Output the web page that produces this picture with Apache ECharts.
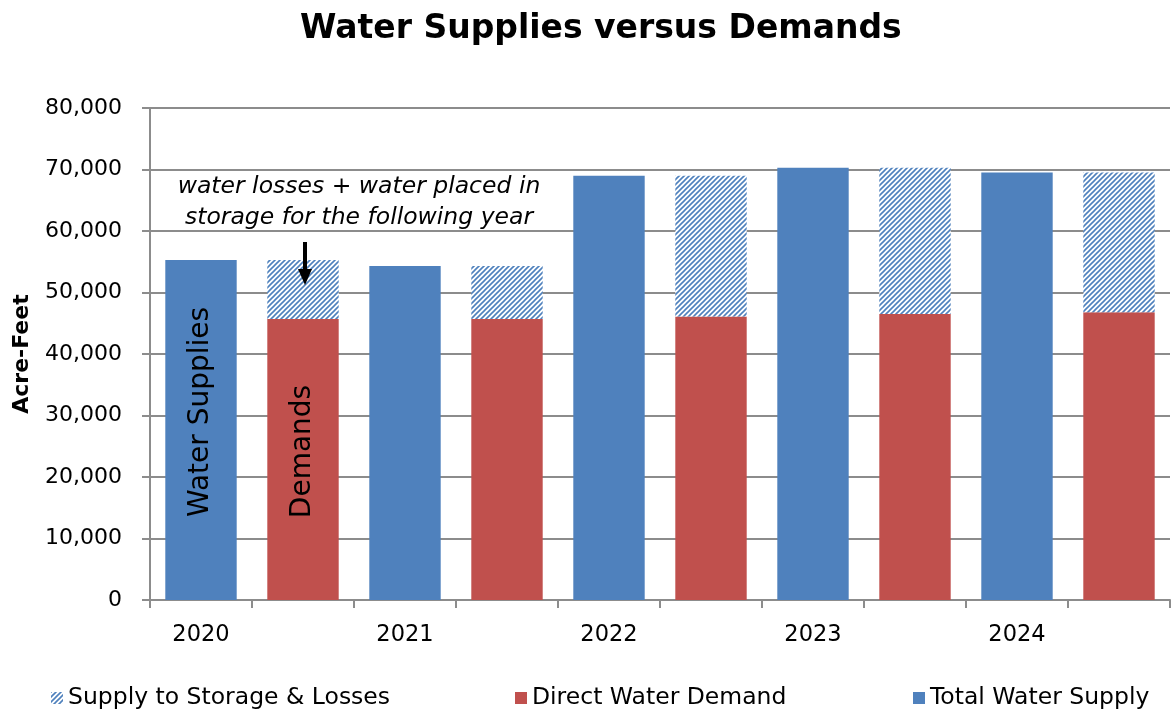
<!DOCTYPE html>
<html><head><meta charset="utf-8">
<script src="https://cdn.jsdelivr.net/npm/echarts@6/dist/echarts.min.js"></script>
<style>html,body{margin:0;padding:0;background:#fff}#c{width:1171px;height:711px}</style>
</head><body><div id="c"></div>
<script>
const categories = ['2020','2020d','2021','2021d','2022','2022d','2023','2023d','2024','2024d'];
const yearLabels = ['2020','','2021','','2022','','2023','','2024',''];
const totalSupply = [55300,'-',54300,'-',69000,'-',70300,'-',69500,'-'];
const directDemand = ['-',45700,'-',45700,'-',46100,'-',46500,'-',46800];
const storageLosses = ['-',9600,'-',8600,'-',22900,'-',23800,'-',22700];
const yTicks = [0,10000,20000,30000,40000,50000,60000,70000,80000];

const FONT = '"DejaVu Sans",sans-serif';
const BLUE = '#4F81BD', RED = '#C0504D', GRID = '#8c8c8c';

function hatch(){
  const c = document.createElement('canvas');
  c.width = 5; c.height = 5;
  const g = c.getContext('2d');
  g.fillStyle = '#fff'; g.fillRect(0,0,5,5);
  g.strokeStyle = BLUE; g.lineWidth = 1.6;
  g.beginPath();
  g.moveTo(-1,6); g.lineTo(6,-1);
  g.moveTo(-4,4); g.lineTo(4,-4);
  g.moveTo(1,9); g.lineTo(9,1);
  g.stroke();
  return c;
}
const pat = {image: hatch(), repeat: 'repeat'};

const chart = echarts.init(document.getElementById('c'));
const legendText = {fontFamily: FONT, fontSize: 23.5, color: '#000'};
const legBase = {icon: 'rect', itemWidth: 12, itemHeight: 12, top: 681, textStyle: legendText};
chart.setOption({
  animation: false,
  textStyle: {fontFamily: FONT},
  title: {text: 'Water Supplies versus Demands', left: 295, top: 8,
    textStyle: {fontFamily: FONT, fontSize: 33, fontWeight: 'bold', color: '#000'}},
  grid: {left: 150, right: 1, top: 108, bottom: 111, outerBoundsMode: 'none', containLabel: false},
  legend: [
    Object.assign({data: ['Supply to Storage & Losses'], left: 46}, legBase),
    Object.assign({data: ['Direct Water Demand'], left: 510}, legBase),
    Object.assign({data: ['Total Water Supply'], left: 908}, legBase)
  ],
  xAxis: {type: 'category', data: categories,
    axisLine: {lineStyle: {color: GRID, width: 2}},
    axisTick: {show: true, interval: 0, length: 8, lineStyle: {color: GRID, width: 2}},
    axisLabel: {interval: 0, margin: 24, fontSize: 22.5, color: '#000', fontFamily: FONT,
      formatter: (v, i) => yearLabels[i]}
  },
  yAxis: {type: 'value', min: yTicks[0], max: yTicks[yTicks.length-1], interval: 10000,
    name: 'Acre-Feet', nameLocation: 'middle', nameGap: 117,
    nameTextStyle: {fontFamily: FONT, fontSize: 22, fontWeight: 'bold', color: '#000'},
    axisLine: {show: true, lineStyle: {color: GRID, width: 2}},
    axisTick: {show: true, length: 8, lineStyle: {color: GRID, width: 2}},
    splitLine: {lineStyle: {color: GRID, width: 2}},
    axisLabel: {fontSize: 22, color: '#000', margin: 28, fontFamily: FONT,
      formatter: v => v.toLocaleString('en-US')}
  },
  series: [
    {name: 'Total Water Supply', type: 'bar', stack: 's', data: totalSupply, barWidth: '70%',
      itemStyle: {color: BLUE},
      label: {show: true, position: 'inside', rotate: 90, fontSize: 28, color: '#000', fontFamily: FONT,
        offset: [18, 0],
        formatter: p => p.dataIndex === 0 ? 'Water Supplies' : ''}},
    {name: 'Direct Water Demand', type: 'bar', stack: 's', data: directDemand, barWidth: '70%',
      itemStyle: {color: RED},
      label: {show: true, position: 'inside', rotate: 90, fontSize: 28, color: '#000', fontFamily: FONT,
        offset: [8, 0],
        formatter: p => p.dataIndex === 1 ? 'Demands' : ''}},
    {name: 'Supply to Storage & Losses', type: 'bar', stack: 's', data: storageLosses, barWidth: '70%',
      itemStyle: {color: pat}}
  ],
  graphic: [
    {type: 'text', x: 359, y: 171, z: 100, style: {text: 'water losses + water placed in\nstorage for the following year',
      fontFamily: FONT, fontSize: 23.5, fontStyle: 'italic', fill: '#000', align: 'center', lineHeight: 31}},
    {type: 'line', z: 100, shape: {x1: 305, y1: 242, x2: 305, y2: 272}, style: {stroke: '#000', lineWidth: 4}},
    {type: 'polygon', z: 100, shape: {points: [[298,269],[312,269],[305,285]]}, style: {fill: '#000'}}
  ]
});
</script></body></html>
